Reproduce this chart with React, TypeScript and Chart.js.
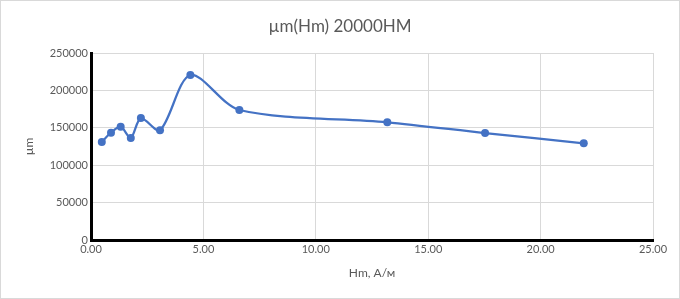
import React, { useEffect, useRef } from "react";
import { Chart, registerables } from "chart.js";

Chart.register(...registerables);

const hmValues = [0.48, 0.89, 1.32, 1.77, 2.22, 3.07, 4.42, 6.6, 13.18, 17.53, 21.92];
const muValues = [131000, 143500, 151500, 136500, 163000, 146700, 220600, 173800, 157400, 143000, 129300];
const chartTitle = "µm(Hm) 20000НМ";
const xTitle = "Hm, А/м";
const yTitle = "µm";

const FONT = "Lato, 'Liberation Sans', sans-serif";
const GREY = "#595959";

const decorPlugin = {
  id: "decor",
  afterDraw(chart: any) {
    const ctx = chart.ctx;
    ctx.save();
    ctx.strokeStyle = "#d9d9d9";
    ctx.lineWidth = 1;
    ctx.strokeRect(0.5, 0.5, chart.width - 1, chart.height - 1);
    ctx.fillStyle = GREY;
    ctx.font = "17px " + FONT;
    ctx.textAlign = "center";
    ctx.textBaseline = "middle";
    ctx.fillText(chartTitle, 340, 27);
    ctx.restore();
  },
};

export default function App() {
  const ref = useRef<HTMLCanvasElement>(null);
  useEffect(() => {
    document.body.style.margin = "0";
    const points = hmValues.map((x, i) => ({ x, y: muValues[i] }));
    const chart = new Chart(ref.current!, {
      type: "scatter",
      data: {
        datasets: [
          {
            data: points,
            showLine: true,
            borderColor: "#4472C4",
            backgroundColor: "#4472C4",
            borderWidth: 2.25,
            pointRadius: 4,
            pointBorderWidth: 0,
            tension: 0.3,
          },
        ],
      },
      plugins: [decorPlugin],
      options: {
        animation: false,
        responsive: false,
        maintainAspectRatio: false,
        layout: { padding: { left: 0, right: 27, top: 53, bottom: 0 } },
        plugins: {
          legend: { display: false },
          tooltip: { enabled: false },
          title: { display: false },
        },
        scales: {
          x: {
            type: "linear",
            min: 0,
            max: 25,
            ticks: {
              stepSize: 5,
              color: GREY,
              font: { family: FONT, size: 11 },
              padding: 3,
              callback: (v: any) => Number(v).toFixed(2),
            },
            grid: { color: "#d9d9d9", lineWidth: 1, drawTicks: false },
            border: { color: "#000", width: 3 },
            title: {
              display: true,
              text: xTitle,
              color: GREY,
              font: { family: FONT, size: 12 },
              padding: { top: 0, bottom: 19 },
            },
            afterFit: (s: any) => {
              s.height = 59;
            },
          },
          y: {
            type: "linear",
            min: 0,
            max: 250000,
            ticks: {
              stepSize: 50000,
              color: GREY,
              font: { family: FONT, size: 11 },
              padding: 3,
              callback: (v: any) => String(v),
            },
            grid: { color: "#d9d9d9", lineWidth: 1, drawTicks: false },
            border: { color: "#000", width: 3 },
            title: {
              display: true,
              text: yTitle,
              color: GREY,
              font: { family: FONT, size: 12 },
              padding: { top: 22, bottom: 0 },
            },
            afterFit: (s: any) => {
              s.width = 91;
            },
          },
        },
      },
    } as any);
    return () => chart.destroy();
  }, []);
  return (
    <div style={{ position: "absolute", left: 0, top: 0, width: 680, height: 299, background: "#fff" }}>
      <canvas ref={ref} width={680} height={299} style={{ width: 680, height: 299, display: "block" }} />
    </div>
  );
}
